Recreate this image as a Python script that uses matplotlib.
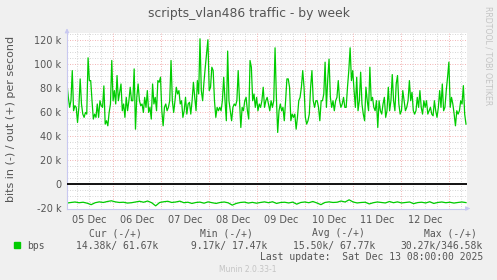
import numpy as np
import matplotlib.pyplot as plt
from matplotlib.ticker import MultipleLocator, FuncFormatter

# out (+) traffic in k bits/s left to right
out_k = [83.3, 72.2, 63.9, 69.4, 94.4, 61.1, 65.3, 63.9, 51.4, 63.9, 87.5, 66.7, 58.3, 55.6, 59.7, 58.3,
         105.0, 86.1, 86.1, 69.4, 54.2, 58.3, 55.6, 66.7, 55.6, 69.4, 65.3, 63.9, 81.7, 50.0, 52.8, 48.6,
         59.7, 66.7, 102.8, 69.4, 77.8, 66.7, 90.3, 69.4, 76.4, 83.3, 61.1, 66.7, 55.6, 72.2, 61.1, 69.4,
         80.6, 69.4, 69.4, 95.8, 45.8, 72.2, 83.3, 69.4, 65.3, 66.7, 59.7, 72.2, 63.9, 77.8, 59.7, 63.9,
         54.2, 83.3, 66.7, 72.2, 61.1, 86.1, 84.7, 88.9, 61.1, 48.6, 63.9, 66.7, 61.1, 63.9, 69.4, 102.8,
         69.4, 59.7, 69.4, 80.6, 75.0, 77.8, 66.7, 69.4, 55.6, 61.1, 72.2, 58.3, 66.7, 68.1, 58.3, 69.4,
         84.7, 72.2, 61.1, 86.1, 75.0, 120.8, 77.8, 69.4, 84.7, 97.2, 108.3, 120.0, 77.8, 80.6, 97.2, 94.4,
         69.4, 55.6, 63.9, 61.1, 63.9, 61.1, 69.4, 88.9, 69.4, 52.8, 110.6, 69.4, 61.1, 52.8, 63.9, 66.7,
         65.3, 69.4, 94.4, 69.4, 47.2, 63.9, 61.1, 69.4, 72.2, 61.1, 54.2, 102.8,
         97.2, 69.4, 75.0, 63.9, 72.2, 61.1, 66.7, 63.9, 69.4, 80.6, 63.9, 69.4, 72.2, 66.7, 61.1, 69.4,
         63.9, 69.4, 113.3, 72.2, 43.1, 61.1, 66.7, 61.1, 63.9, 52.8, 69.4, 87.5, 87.5, 80.6, 52.8, 58.3,
         55.6, 58.3, 45.8, 55.6, 69.4, 72.2, 80.6, 94.4, 80.6, 55.6, 50.0, 52.8, 58.3, 80.6, 94.4, 69.4,
         63.9, 69.4, 69.4, 63.9, 52.8, 69.4, 69.4, 75.0, 101.4, 63.9, 87.5, 103.9, 72.2, 63.9, 69.4, 61.1,
         69.4, 72.2, 86.1, 69.4, 63.9, 66.7, 72.2, 63.9, 63.9, 80.6, 94.4, 113.3, 86.1, 94.4, 77.8, 63.9,
         88.9, 61.1, 69.4, 93.1, 66.7, 58.3, 52.8, 80.6, 69.4, 61.1, 97.2, 69.4, 72.2, 63.9, 61.1, 69.4,
         47.2, 69.4, 61.1, 58.3, 66.7, 72.2, 55.6, 61.1, 80.6, 61.1, 69.4, 91.1, 69.4, 61.1, 83.3, 90.3,
         66.7, 58.3, 61.1, 77.8, 69.4, 61.1, 63.9, 69.4, 86.1, 69.4, 76.4, 61.1, 58.3, 61.1, 72.2, 63.9,
         77.8, 63.9, 58.3, 69.4, 63.9, 69.4, 58.3, 61.1, 63.9, 58.3, 56.9, 69.4, 61.1, 55.6, 63.9, 77.8,
         63.9, 83.3, 61.1, 63.9, 77.8, 88.9, 101.4, 63.9, 72.2, 66.7, 58.3, 48.6, 61.1, 58.3, 61.1, 69.4,
         66.7, 81.9, 58.3, 50.0]

# in (-) traffic in k bits/s (drawn below zero)
in_k = [-15.5, -15.0, -14.6, -15.2, -14.8, -15.6, -16.8, -15.2, -14.5, -15.0, -14.2, -13.6, -14.5, -15.0,
        -14.8, -15.5, -15.2, -14.6, -14.0, -14.8, -13.8, -15.2, -17.8, -15.0, -14.4, -14.0, -15.0, -14.6,
        -13.9, -15.2, -14.8, -15.8, -15.0, -14.7, -15.6, -14.5, -15.2, -15.8, -15.0, -14.6, -15.3, -17.2,
        -15.8, -15.0, -14.7, -15.5, -14.9, -15.6, -15.0, -14.5, -15.2, -14.4, -15.8, -15.0, -14.8, -15.4,
        -14.7, -16.4, -15.0, -14.6, -15.2, -14.2, -15.4, -16.8, -15.0, -14.5, -15.0, -14.8, -13.8, -14.6,
        -12.8, -14.6, -15.4, -15.0, -14.8, -16.2, -15.2, -14.6, -15.0, -15.4, -14.2, -15.2, -14.5, -15.4,
        -15.0, -14.6, -16.0, -15.1, -14.8, -15.4, -14.4, -15.8, -15.0, -14.6, -15.2, -14.8, -15.5, -15.0,
        -14.6, -15.1]

day_labels = ['05 Dec', '06 Dec', '07 Dec', '08 Dec', '09 Dec', '10 Dec', '11 Dec', '12 Dec']
col_heads = ['Cur (-/+)', 'Min (-/+)', 'Avg (-/+)', 'Max (-/+)']
col_vals = ['14.38k/ 61.67k', ' 9.17k/ 17.47k', '15.50k/ 67.77k', '30.27k/346.58k']
last_update = 'Last update:  Sat Dec 13 08:00:00 2025'

txt = '#555555'
green = '#00CC00'

fig = plt.figure(figsize=(4.97, 2.80), dpi=100, facecolor='#F0F0F0')
ax = fig.add_axes([67 / 497, (280 - 208.5) / 280, 400 / 497, 176 / 280])
ax.set_facecolor('white')

# hours since left edge of the plot, 2 px per hour
t_out = np.linspace(0, 199.5, len(out_k))
t_in = np.linspace(0, 199.5, len(in_k))
ax.plot(t_out, np.array(out_k) * 1000, color=green, lw=0.9)
ax.plot(t_in, np.array(in_k) * 1000, color=green, lw=0.9)
ax.axhline(0, color='black', lw=1.3, zorder=3)

ax.set_xlim(0, 200)
ax.set_ylim(-20000, 126000)

# grid: minor grey dots, major red dots
for y in np.arange(-15000, 126000, 5000):
    if y % 20000 != 0:
        ax.axhline(y, color='#C8C8C8', lw=0.6, ls=(0, (1, 2)), zorder=0)
for y in np.arange(-20000, 126000, 20000):
    ax.axhline(y, color='#EE9A9A', lw=0.6, ls=(0, (1, 2)), zorder=0)
for h in np.arange(5, 200, 6):
    if (h - 23) % 24 != 0:
        ax.axvline(h, color='#C8C8C8', lw=0.6, ls=(0, (1, 2)), zorder=0)
for h in np.arange(23, 200, 24):
    ax.axvline(h, color='#EE9A9A', lw=0.6, ls=(0, (1, 2)), zorder=0)

ax.yaxis.set_major_locator(MultipleLocator(20000))
ax.yaxis.set_major_formatter(FuncFormatter(lambda v, p: '0' if v == 0 else f'{int(v / 1000)} k'))
ax.set_xticks(np.arange(11, 200, 24)[:len(day_labels)])
ax.set_xticklabels(day_labels)
ax.tick_params(axis='both', length=0, labelsize=7, labelcolor=txt, pad=4)
ax.tick_params(axis='x', pad=5)

for s in ['top', 'right']:
    ax.spines[s].set_visible(False)
for s in ['left', 'bottom']:
    ax.spines[s].set_color('#C8C8F0')
    ax.spines[s].set_linewidth(0.8)
ax.annotate('', xy=(203, -20000), xytext=(199, -20000), annotation_clip=False,
            arrowprops=dict(arrowstyle='-|>', color='#C8C8F0', lw=0.8, mutation_scale=6))
ax.annotate('', xy=(0, 129500), xytext=(0, 125000), annotation_clip=False,
            arrowprops=dict(arrowstyle='-|>', color='#C8C8F0', lw=0.8, mutation_scale=6))

fig.text(11 / 497, 1 - 119 / 280, 'bits in (-) / out (+) per second', rotation=90, ha='center',
         va='center', fontsize=8, color=txt)

fig.text(0.5, 1 - 13.5 / 280, 'scripts_vlan486 traffic - by week', ha='center', va='center',
         fontsize=8.9, color=txt)
fig.text(488 / 497, 1 - 56 / 280, 'RRDTOOL / TOBI OETIKER', rotation=270, ha='center', va='center',
         fontsize=5.6, color='#C4C4C4')

mono = 'DejaVu Sans Mono'
head_right = [142, 253, 365, 477]
val_right = [158, 267, 375, 483]
for h, v, hr, vr in zip(col_heads, col_vals, head_right, val_right):
    fig.text(hr / 497, 1 - 233 / 280, h, ha='right', va='center', family=mono, fontsize=7, color=txt)
    fig.text(vr / 497, 1 - 246 / 280, v, ha='right', va='center', family=mono, fontsize=7, color=txt)
fig.patches.append(plt.Rectangle((14 / 497, 1 - 248 / 280), 6 / 497, 6 / 280,
                                 transform=fig.transFigure, color=green, figure=fig))
fig.text(27 / 497, 1 - 246 / 280, 'bps', ha='left', va='center', family=mono, fontsize=7, color=txt)
fig.text(483 / 497, 1 - 257 / 280, last_update, ha='right', va='center', family=mono, fontsize=7, color=txt)
fig.text(248 / 497, 1 - 269 / 280, 'Munin 2.0.33-1', ha='center', va='center', fontsize=5.5, color='#C4C4C4')

fig.savefig('out.png', dpi=100, facecolor=fig.get_facecolor())
